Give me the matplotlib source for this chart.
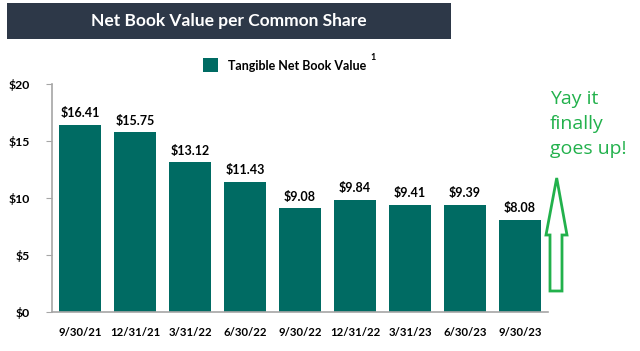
import matplotlib
matplotlib.use("Agg")
import matplotlib.pyplot as plt
from matplotlib.patches import Rectangle, Polygon

categories = ["9/30/21", "12/31/21", "3/31/22", "6/30/22", "9/30/22",
              "12/31/22", "3/31/23", "6/30/23", "9/30/23"]
tbv = [16.41, 15.75, 13.12, 11.43, 9.08, 9.84, 9.41, 9.39, 8.08]
yticks = [0, 5, 10, 15, 20]
ytick_labels = ["$0", "$5", "$10", "$15", "$20"]

W, H = 640, 351
fig = plt.figure(figsize=(W / 100, H / 100), dpi=100)
plt.rcParams['font.family'] = ['Lato', 'DejaVu Sans']

bar_color = "#006B63"
green = "#22B14C"

def fx(px):
    return px / W

def fy(py):
    return 1 - py / H

# title banner
fig.patches.append(Rectangle((fx(7), fy(39)), fx(451) - fx(7), fy(3) - fy(39),
                             transform=fig.transFigure, facecolor="#2D3848",
                             edgecolor="none", zorder=0))
fig.text(fx(229), fy(21), "Net Book Value per Common Share", color="white",
         fontsize=12.5, fontweight="bold", ha="center", va="center")

ax = fig.add_axes([fx(52), fy(312), fx(548) - fx(52), fy(84) - fy(312)])
x = list(range(len(categories)))
ax.bar(x, tbv, width=0.76, color=bar_color, zorder=2)
for xi, v in zip(x, tbv):
    ax.annotate(f"${v:.2f}", (xi, v), xytext=(0, 4), textcoords="offset points",
                ha="center", va="bottom", fontsize=9, fontweight="bold", color="black")
ax.set_xlim(-0.51, 8.51)
ax.set_ylim(0, 20)
ax.set_xticks(x)
ax.set_xticklabels(categories, fontsize=8.2, fontweight="bold")
ax.set_yticks(yticks)
ax.set_yticklabels(ytick_labels, fontsize=8.8, fontweight="bold")
for s in ["top", "right"]:
    ax.spines[s].set_visible(False)
for s in ["left", "bottom"]:
    ax.spines[s].set_color("#A6A6A6")
    ax.spines[s].set_linewidth(1.2)
ax.tick_params(axis="y", length=4, color="#A6A6A6", pad=12)
ax.tick_params(axis="x", length=0, pad=11)

# legend
fig.patches.append(Rectangle((fx(203), fy(72)), fx(218) - fx(203), fy(58) - fy(72),
                             transform=fig.transFigure, facecolor=bar_color,
                             edgecolor="none"))
fig.text(fx(228), fy(66), "Tangible Net Book Value", fontsize=9, fontweight="bold",
         ha="left", va="center")
fig.text(fx(370), fy(57), "1", fontsize=6.5, fontweight="bold", ha="left", va="center")

# annotation text and arrow
fig.text(fx(550), fy(124), "Yay it\nfinally\ngoes up!", color=green, fontsize=14,
         ha="left", va="center", linespacing=1.5, family=["Open Sans", "DejaVu Sans"])
pts = [(556.7, 178), (546, 235), (550, 235), (550, 291), (562, 291), (562, 235), (567, 235)]
fig.patches.append(Polygon([(fx(a), fy(b)) for a, b in pts], closed=True,
                           transform=fig.transFigure, facecolor="white",
                           edgecolor=green, linewidth=2))

fig.savefig("out.png", dpi=100)
